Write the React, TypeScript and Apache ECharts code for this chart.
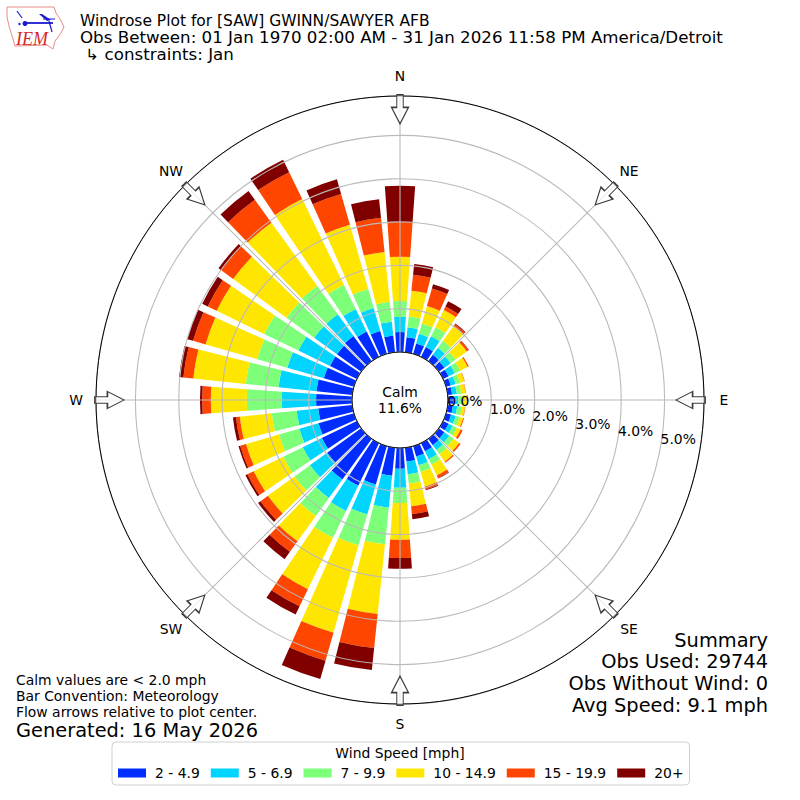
import React, { useEffect, useRef } from "react";
import * as echarts from "echarts";

const directions = Array.from({ length: 36 }, (_, i) => String(i * 10));
const speedBins = ["2 - 4.9", "5 - 6.9", "7 - 9.9", "10 - 14.9", "15 - 19.9", "20+"];
const binColors = ["#002CFF", "#00D4FF", "#7DFF7A", "#FFE600", "#FF4600", "#800000"];

// percent of observations per direction, N (0 deg) clockwise
const bin2to5 = [0.46,0.35,0.25,0.25,0.18,0.16,0.14,0.11,0.10,0.12,0.12,0.12,0.14,0.16,0.18,0.21,0.25,0.32,0.48,0.65,0.92,1.09,1.16,0.97,0.90,0.85,0.79,0.83,0.83,0.72,0.69,0.69,0.72,0.65,0.55,0.39];
const bin5to7 = [0.35,0.23,0.23,0.28,0.20,0.18,0.16,0.12,0.11,0.12,0.10,0.11,0.11,0.14,0.14,0.20,0.21,0.30,0.44,0.74,0.72,0.65,0.53,0.49,0.49,0.46,0.50,0.79,0.88,0.88,0.81,0.65,0.62,0.58,0.55,0.32];
const bin7to10 = [0.37,0.25,0.25,0.23,0.20,0.14,0.14,0.10,0.10,0.10,0.10,0.09,0.10,0.12,0.12,0.14,0.16,0.21,0.35,0.85,0.74,0.69,0.51,0.44,0.50,0.49,0.58,0.81,0.76,0.72,0.88,0.79,0.81,0.62,0.46,0.46];
const bin10to15 = [1.02,0.60,0.42,0.44,0.42,0.32,0.19,0.11,0.10,0.10,0.08,0.09,0.10,0.16,0.21,0.28,0.35,0.53,0.85,1.62,2.10,1.32,0.72,0.76,0.76,0.79,0.74,0.83,1.22,1.24,1.22,1.52,1.80,2.20,1.54,1.16];
const bin15to20 = [0.81,0.37,0.42,0.09,0.05,0.05,0.03,0.01,0.01,0.02,0.01,0.02,0.05,0.04,0.03,0.07,0.07,0.18,0.42,0.79,0.67,0.44,0.30,0.21,0.16,0.14,0.09,0.20,0.23,0.30,0.23,0.35,0.65,0.69,0.74,0.79];
const bin20plus = [0.83,0.25,0.10,0.14,0.02,0.01,0,0,0,0,0,0,0,0,0,0.01,0.02,0.12,0.25,0.51,0.44,0.21,0.21,0.07,0.05,0.04,0.07,0.05,0.10,0.14,0.14,0.07,0.25,0.32,0.35,0.43];
const binValues = [bin2to5, bin5to7, bin7to10, bin10to15, bin15to20, bin20plus];

const radiusTicks = [0, 1, 2, 3, 4, 5];
const compassNames = ["N", "NE", "E", "SE", "S", "SW", "W", "NW"];
const compassAngles = [0, 45, 90, 135, 180, 225, 270, 315];

const titleLines = [
  "Windrose Plot for [SAW] GWINN/SAWYER AFB",
  "Obs Between: 01 Jan 1970 02:00 AM - 31 Jan 2026 11:58 PM America/Detroit",
  " \u21B3 constraints: Jan",
];
const titleStretch = [1.012, 1.09, 1.09];
const noteLines = ["Calm values are < 2.0 mph", "Bar Convention: Meteorology", "Flow arrows relative to plot center."];
const generatedText = "Generated: 16 May 2026";
const summaryLines = ["Summary", "Obs Used: 29744", "Obs Without Wind: 0", "Avg Speed: 9.1 mph"];
const calmLines = ["Calm", "11.6%"];

const FONT = '"DejaVu Sans"';
const RADIUS_MAX = 5.91;
const CENTER = ["50%", "50%"];
const RADIUS = [48, 304];
const ARROW_PATH = "path://M8.5 0L17 16.5L11.7 16.5L11.7 29L5.3 29L5.3 16.5L0 16.5Z";

const txt = (text: string, x: number, y: number, size: number, align = "left", scaleX = 1) => ({
  type: "text",
  x,
  y,
  scaleX,
  z: 20,
  silent: true,
  style: { text, x: 0, y: 0, fill: "#000", font: `${size}px ${FONT}`, align, verticalAlign: "middle" },
});

const BLUE = "#1a1ad0";
const logo = [
  {
    type: "polygon",
    z: 20,
    shape: { points: [[7,7],[54,7],[56,13],[60,19],[64,27],[61,33],[58,37],[55,41],[53,49],[47,45],[15,46],[13,39],[9,26],[7,17]] },
    style: { fill: "#fff", stroke: "#e88a8a", lineWidth: 1 },
  },
  { type: "line", z: 20, shape: { x1: 25, y1: 23, x2: 53, y2: 23 }, style: { stroke: BLUE, lineWidth: 1.8 } },
  { type: "line", z: 20, shape: { x1: 43, y1: 19, x2: 55, y2: 19 }, style: { stroke: BLUE, lineWidth: 1 } },
  { type: "line", z: 20, shape: { x1: 17, y1: 11, x2: 22, y2: 18 }, style: { stroke: BLUE, lineWidth: 1.2 } },
  { type: "polygon", z: 20, shape: { points: [[39,14],[42,14],[51,20],[47,21]] }, style: { fill: BLUE } },
  { type: "circle", z: 20, shape: { cx: 25, cy: 23.5, r: 2.5 }, style: { fill: BLUE } },
  { type: "circle", z: 20, shape: { cx: 19.5, cy: 24, r: 1.2 }, style: { fill: BLUE } },
  { type: "line", z: 20, shape: { x1: 49, y1: 21, x2: 52, y2: 32 }, style: { stroke: BLUE, lineWidth: 1.2 } },
  {
    type: "text",
    z: 21,
    x: 16,
    y: 39,
    style: { text: "IEM", x: 0, y: 0, fill: "#d62828", font: 'italic 18px "Liberation Serif"', align: "left", verticalAlign: "middle" },
  },
];

function buildOption() {
  const barSeries = speedBins.map((name, i) => ({
    name,
    type: "bar",
    coordinateSystem: "polar",
    polarIndex: 0,
    stack: "wind",
    barCategoryGap: "19%",
    z: 2,
    silent: true,
    itemStyle: { color: binColors[i] },
    data: binValues[i],
  }));
  return {
    animation: false,
    tooltip: { show: false },
    polar: [
      { center: CENTER, radius: RADIUS },
      { center: CENTER, radius: RADIUS },
    ],
    angleAxis: [
      {
        polarIndex: 0,
        type: "category",
        data: directions,
        startAngle: 95,
        clockwise: true,
        axisLine: { show: false },
        axisTick: { show: false },
        axisLabel: { show: false },
        splitLine: { show: false },
      },
      {
        polarIndex: 1,
        type: "value",
        min: 0,
        max: 360,
        interval: 45,
        startAngle: 90,
        clockwise: true,
        z: 6,
        axisLine: { show: true, lineStyle: { color: "#000", width: 1 } },
        axisTick: { show: false },
        axisLabel: { show: false },
        splitLine: { show: true, lineStyle: { color: "#bababa", width: 1.1, type: "solid" } },
      },
    ],
    radiusAxis: [
      { polarIndex: 0, type: "value", min: 0, max: RADIUS_MAX, show: false, splitLine: { show: false } },
      {
        polarIndex: 1,
        type: "value",
        min: 0,
        max: RADIUS_MAX,
        interval: 1,
        z: 5,
        axisLine: { show: false },
        axisTick: { show: false },
        axisLabel: { show: false },
        splitLine: { show: true, lineStyle: { color: "#bababa", width: 1.1, type: "solid" } },
      },
    ],
    legend: {
      show: true,
      data: speedBins,
      left: 112,
      top: 742,
      orient: "horizontal",
      padding: [24, 6, 5, 6],
      itemWidth: 28,
      itemHeight: 9,
      itemGap: 11,
      icon: "rect",
      selectedMode: false,
      borderColor: "#d0d0d0",
      borderWidth: 1,
      borderRadius: 4,
      backgroundColor: "#fff",
      textStyle: { color: "#000", fontFamily: FONT, fontSize: 13.9, padding: [0, 0, 0, 4] },
    },
    graphic: [
      ...logo,
      ...titleLines.map((t, i) => txt(t, 80, 21 + i * 17, 15.3, "left", titleStretch[i])),
      ...noteLines.map((t, i) => txt(t, 16, 680 + i * 16, 13.9)),
      txt(generatedText, 16, 730, 19.4),
      ...summaryLines.map((t, i) => txt(t, 768, 640 + i * 21.7, 19.4, "right")),
      ...calmLines.map((t, i) => txt(t, 400, 392 + i * 16, 13.9, "center")),
      txt("Wind Speed [mph]", 400, 753, 13.9, "center"),
    ],
    series: [
      ...barSeries,
      {
        type: "scatter",
        coordinateSystem: "polar",
        polarIndex: 1,
        clip: false,
        silent: true,
        z: 8,
        symbol: ARROW_PATH,
        symbolSize: [17, 29],
        symbolRotate: (v: number[]) => -(v[1] + 180),
        itemStyle: { color: "rgba(255,255,255,0.7)", borderColor: "#3c3c3c", borderWidth: 1.3, opacity: 1 },
        data: compassAngles.map((a) => [5.6, a]),
      },
      {
        type: "scatter",
        coordinateSystem: "polar",
        polarIndex: 1,
        clip: false,
        silent: true,
        z: 9,
        symbolSize: 0,
        itemStyle: { opacity: 1 },
        label: {
          show: true,
          position: [0, 0],
          align: "center",
          verticalAlign: "middle",
          color: "#000",
          opacity: 1,
          fontFamily: FONT,
          fontSize: 13.9,
          formatter: (p: any) => compassNames[p.dataIndex],
        },
        data: compassAngles.map((a) => [6.37, a]),
      },
      {
        type: "scatter",
        coordinateSystem: "polar",
        polarIndex: 1,
        clip: false,
        silent: true,
        z: 9,
        symbolSize: 0,
        itemStyle: { opacity: 1 },
        label: {
          show: true,
          position: [0, 0],
          align: "left",
          verticalAlign: "bottom",
          color: "#000",
          opacity: 1,
          fontFamily: FONT,
          fontSize: 13.9,
          formatter: (p: any) => `${p.value[0].toFixed(1)}%`,
        },
        data: radiusTicks.map((r) => [r, 100]),
      },
    ],
  };
}

export default function App() {
  const ref = useRef<HTMLDivElement>(null);
  useEffect(() => {
    document.body.style.margin = "0";
    const chart = echarts.init(ref.current as HTMLDivElement, undefined, { renderer: "svg", width: 800, height: 800 });
    chart.setOption(buildOption() as any);
    return () => chart.dispose();
  }, []);
  return <div ref={ref} style={{ width: 800, height: 800, background: "#fff" }} />;
}
